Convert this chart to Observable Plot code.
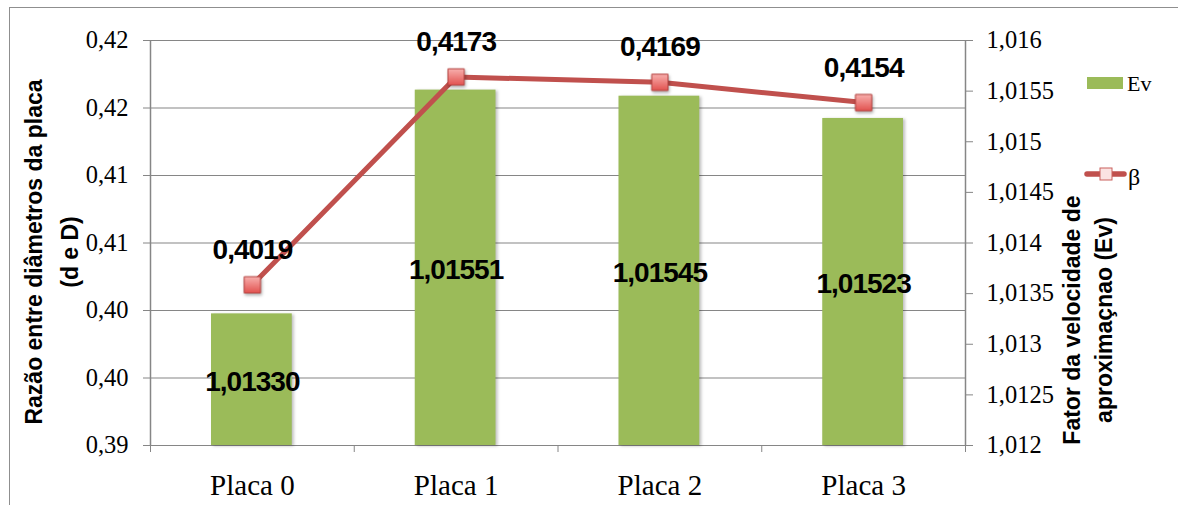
<!DOCTYPE html>
<html>
<head>
<meta charset="utf-8">
<script src="https://cdn.jsdelivr.net/npm/d3@7"></script>
<script src="https://cdn.jsdelivr.net/npm/@observablehq/plot@0.6"></script>
<style>
  body { margin: 0; background: #fff; overflow: hidden; }
  #chart { position: relative; width: 1178px; height: 505px; overflow: hidden; }
  #frame { position: absolute; left: 9px; top: 7px; width: 1300px; height: 600px;
           border: 1.5px solid #8f8f8f; box-sizing: border-box; }
  #chart svg.plot { position: absolute; left: 0; top: 0; }
  #chart svg#legend { position: absolute; left: 1080px; top: 60px; }
  .ytitle { position: absolute; font-family: "Liberation Sans", Arial, sans-serif;
            font-weight: bold; font-size: 23px; text-align: center; white-space: nowrap;
            transform: translate(-50%, -50%) rotate(-90deg); color: #000; }
  #ytitle-left { left: 52px; top: 252px; line-height: 36px; }
  #ytitle-right { left: 1088px; top: 320px; line-height: 32px; }
  g[aria-label="text"] text { letter-spacing: -1px; }
  g[aria-label="rect"] { filter: drop-shadow(2px 1px 1.5px rgba(0,0,0,0.25)); }
  g[aria-label="dot"] { filter: drop-shadow(1.5px 2px 1.5px rgba(0,0,0,0.3)); }
</style>
</head>
<body>
<div id="chart">
  <div id="frame"></div>
  <div class="ytitle" id="ytitle-left">Razão entre diâmetros da placa<br>(d e D)</div>
  <div class="ytitle" id="ytitle-right">Fator da velocidade de<br>aproximaçnao (Ev)</div>
</div>
<script>
// Plates compared
const categories = ["Placa 0", "Placa 1", "Placa 2", "Placa 3"];
// β: ratio between plate diameters (left axis, line)
const betaValues = [0.4019, 0.4173, 0.4169, 0.4154];
// Ev: approach velocity factor (right axis, bars)
const evValues = [1.01330, 1.01551, 1.01545, 1.01523];

// Left axis ticks and their labels (two decimals, comma separator)
const betaTicks = [0.39, 0.395, 0.40, 0.405, 0.41, 0.415, 0.42];
const betaTickLabels = ["0,39", "0,40", "0,40", "0,41", "0,41", "0,42", "0,42"];
// Right axis ticks and labels
const evTicks = [1.012, 1.0125, 1.013, 1.0135, 1.014, 1.0145, 1.015, 1.0155, 1.016];
const evTickLabels = ["1,012", "1,0125", "1,013", "1,0135", "1,014", "1,0145", "1,015", "1,0155", "1,016"];

// Legend entries
const legendEv = "Ev";
const legendBeta = "β";

// The shared y scale is in β units; Ev is mapped linearly onto it
const betaDomain = [betaTicks[0], betaTicks[betaTicks.length - 1]];
const evDomain = [evTicks[0], evTicks[evTicks.length - 1]];
const evToBeta = v => betaDomain[0] + (v - evDomain[0]) * (betaDomain[1] - betaDomain[0]) / (evDomain[1] - evDomain[0]);

const rows = categories.map((c, i) => ({
  cat: c,
  x1: i,
  x2: i + 1,
  pos: i + 0.5,
  beta: betaValues[i],
  ev: evValues[i],
  evY: evToBeta(evValues[i]),
  evMid: (betaDomain[0] + evToBeta(evValues[i])) / 2
}));

const nearestIndex = (arr, d) => arr.findIndex(t => Math.abs(t - d) < 1e-9);
const comma = s => s.replace(".", ",");

const serif = "Liberation Serif, Times New Roman, serif";
const sans = "Liberation Sans, Arial, sans-serif";
const axisGray = "#868686";
const barGreen = "#9bbb59";
const lineRed = "#c0504d";

const plot = Plot.plot({
  width: 1178,
  height: 505,
  marginLeft: 150,
  marginRight: 213,
  marginTop: 40,
  marginBottom: 60,
  className: "plot",
  style: { fontFamily: serif, fontSize: "24.5px", color: "#000", background: "transparent", overflow: "visible" },
  x: { domain: [0, categories.length], axis: null },
  y: { domain: betaDomain, axis: null },
  marks: [
    // horizontal gridlines at the left-axis ticks
    Plot.gridY(betaTicks, { stroke: axisGray, strokeOpacity: 1, strokeWidth: 1.2 }),
    // Ev bars
    Plot.rectY(rows, { x1: "x1", x2: "x2", y1: betaDomain[0], y2: "evY", fill: barGreen, insetLeft: 61, insetRight: 62 }),
    // axis lines
    Plot.ruleX([0, categories.length], { stroke: axisGray, strokeWidth: 1.5 }),
    // left axis
    Plot.axisY({ anchor: "left", ticks: betaTicks, tickSize: 7, tickPadding: 15, stroke: axisGray, fill: "#000",
                 fontFamily: serif, fontSize: 24.5, fontVariant: "normal",
                 tickFormat: d => betaTickLabels[nearestIndex(betaTicks, d)], label: null }),
    // right axis (Ev values placed on the β scale)
    Plot.axisY({ anchor: "right", ticks: evTicks.map(evToBeta), tickSize: 7, tickPadding: 14, stroke: axisGray, fill: "#000",
                 fontFamily: serif, fontSize: 24.5, fontVariant: "normal",
                 tickFormat: d => evTickLabels[nearestIndex(evTicks.map(evToBeta), d)], label: null }),
    // category separators on the bottom axis
    Plot.axisX({ anchor: "bottom", ticks: d3.range(categories.length + 1), tickSize: 7, stroke: axisGray, tickFormat: () => "", label: null }),
    // category names
    Plot.axisX({ anchor: "bottom", ticks: rows.map(d => d.pos), tickSize: 0, tickPadding: 29, fontSize: 29, fontFamily: serif, fill: "#000",
                 tickFormat: d => categories[Math.floor(d)], label: null }),
    // β line with square markers
    Plot.line(rows, { x: "pos", y: "beta", stroke: lineRed, strokeWidth: 5 }),
    Plot.dot(rows, { x: "pos", y: "beta", symbol: "square", r: 9.2, fill: "url(#markerFill)", stroke: "#b5423f", strokeWidth: 1 }),
    // value labels
    Plot.text(rows, { x: "pos", y: "beta", text: d => comma(d.beta.toFixed(4)), dy: -35,
                      fontFamily: sans, fontWeight: "bold", fontSize: 28, fill: "#000" }),
    Plot.text(rows, { x: "pos", y: "evMid", text: d => comma(d.ev.toFixed(5)), dy: 2,
                      fontFamily: sans, fontWeight: "bold", fontSize: 28, fill: "#000" })
  ]
});

// axis tick labels in the serif face
d3.select(plot).selectAll('g[aria-label$="tick label"] text')
  .style("font-family", serif, "important")
  .style("font-variant-numeric", "normal", "important");

// gradient used by the square markers
const defs = d3.select(plot).insert("defs", ":first-child");
const grad = defs.append("linearGradient").attr("id", "markerFill")
  .attr("x1", 0).attr("y1", 0).attr("x2", 0).attr("y2", 1);
grad.append("stop").attr("offset", "0%").attr("stop-color", "#f8b0ae");
grad.append("stop").attr("offset", "100%").attr("stop-color", "#e2524f");

const chart = document.getElementById("chart");
chart.insertBefore(plot, chart.querySelector(".ytitle"));

// legend
const legend = d3.select(chart).append("svg").attr("id", "legend")
  .attr("width", 90).attr("height", 140);
legend.append("rect").attr("x", 7).attr("y", 17).attr("width", 36).attr("height", 12).attr("fill", barGreen);
legend.append("text").attr("x", 47).attr("y", 31)
  .attr("font-family", serif).attr("font-size", 22).text(legendEv);
legend.append("line").attr("x1", 7).attr("x2", 44).attr("y1", 114).attr("y2", 114)
  .attr("stroke", lineRed).attr("stroke-width", 5.5).attr("stroke-linecap", "round");
legend.append("rect").attr("x", 20).attr("y", 108).attr("width", 12).attr("height", 12)
  .attr("fill", "#fbe3e2").attr("stroke", "#c9605d").attr("stroke-width", 1);
legend.append("text").attr("x", 48).attr("y", 125)
  .attr("font-family", serif).attr("font-size", 24).text(legendBeta);
</script>
</body>
</html>
